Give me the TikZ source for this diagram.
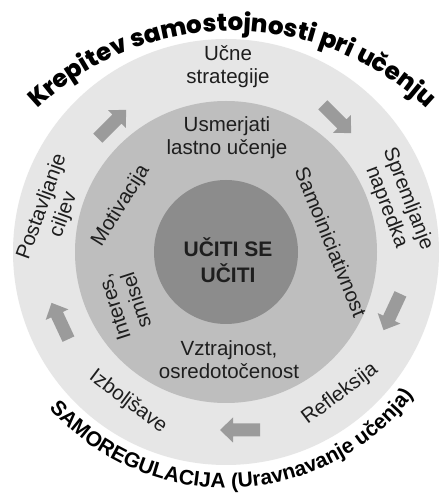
\documentclass[tikz,border=0pt]{standalone}
\usepackage{fontspec}
\setmainfont{Liberation Sans}
\newfontfamily\titlefont{Poppins}[BoldFont={Poppins ExtraBold}]
\usetikzlibrary{decorations.text}

\definecolor{ringouter}{HTML}{E6E6E6}
\definecolor{ringmid}{HTML}{BEBEBE}
\definecolor{ringcore}{HTML}{8C8C8C}
\definecolor{arrowgray}{HTML}{9B9B9B}
\definecolor{labeltext}{HTML}{1E1E1E}

\tikzset{
  disc/.style={circle, inner sep=0pt, draw=none},
  ringlabel/.style={font=\fontsize{20.5}{23}\selectfont, align=center, text=labeltext, inner sep=0pt},
  corelabel/.style={font=\bfseries\fontsize{21}{26}\selectfont, align=center, text=labeltext, inner sep=0pt},
  flowarrow/.pic={
    \fill[arrowgray] (-20,-6.5) -- (7,-6.5) -- (7,-12.5) -- (20,0) -- (7,12.5) -- (7,6.5) -- (-20,6.5) -- cycle;
  }
}

\begin{document}
\begin{tikzpicture}[x=1pt,y=1pt]
  \useasboundingbox[fill=white] (0,0) rectangle (439,495);

  % concentric discs
  \coordinate (C) at (226,243);
  \node[disc, fill=ringouter, minimum size=426pt] (outer) at (C) {};
  \node[disc, fill=ringmid, minimum size=302pt] (middle) at (C) {};
  \node[disc, fill=ringcore, minimum size=144pt] (core) at (C) {};

  % centre
  \node[corelabel] (centre) at (228,235) {UČITI SE\\UČITI};

  % inner ring
  \node[ringlabel] (usmerjati) at (227,357) {Usmerjati\\lastno učenje};
  \node[ringlabel, rotate=-68] (samoin) at (331,253) {Samoiniciativnost};
  \node[ringlabel] (vztrajnost) at (229,135) {Vztrajnost,\\osredotočenost};
  \node[ringlabel, rotate=108] (interes) at (125,191) {Interes,\\smisel};
  \node[ringlabel, rotate=58] (motivacija) at (121,289) {Motivacija};

  % outer ring
  \node[ringlabel] (ucne) at (228,428) {Učne\\strategije};
  \node[ringlabel, rotate=-69] (spremljanje) at (397,292) {Spremljanje\\napredka};
  \node[ringlabel, rotate=37] (refleksija) at (340,101) {Refleksija};
  \node[ringlabel, rotate=-37] (izboljsave) at (128,93) {Izboljšave};
  \node[ringlabel, rotate=70] (postavljanje) at (53,284) {Postavljanje\\ciljev};

  % cycle arrows
  \pic[rotate=45] (arrowA) at (112,371) {flowarrow};
  \pic[rotate=-45] (arrowB) at (337,376) {flowarrow};
  \pic[rotate=-115] (arrowC) at (392,183) {flowarrow};
  \pic[rotate=180] (arrowD) at (240,65) {flowarrow};
  \pic[rotate=115] (arrowE) at (60,174) {flowarrow};

  % title along the upper arc
  \coordinate (T) at (232,182);
  \path[decorate, decoration={text along path, text align=center,
      text={|\titlefont\bfseries\fontsize{24.5}{25}\selectfont|Krepitev samostojnosti pri učenju}}]
    (T) ++(150:282) arc[start angle=150, end angle=30, radius=282];

  % caption along the lower arc
  \path[decorate, decoration={text along path, text align=center,
      text={|\bfseries\fontsize{21}{22}\selectfont|SAMOREGULACIJA (Uravnavanje učenja)}}]
    (C) ++(212:236) arc[start angle=212, end angle=332, radius=236];
\end{tikzpicture}
\end{document}
